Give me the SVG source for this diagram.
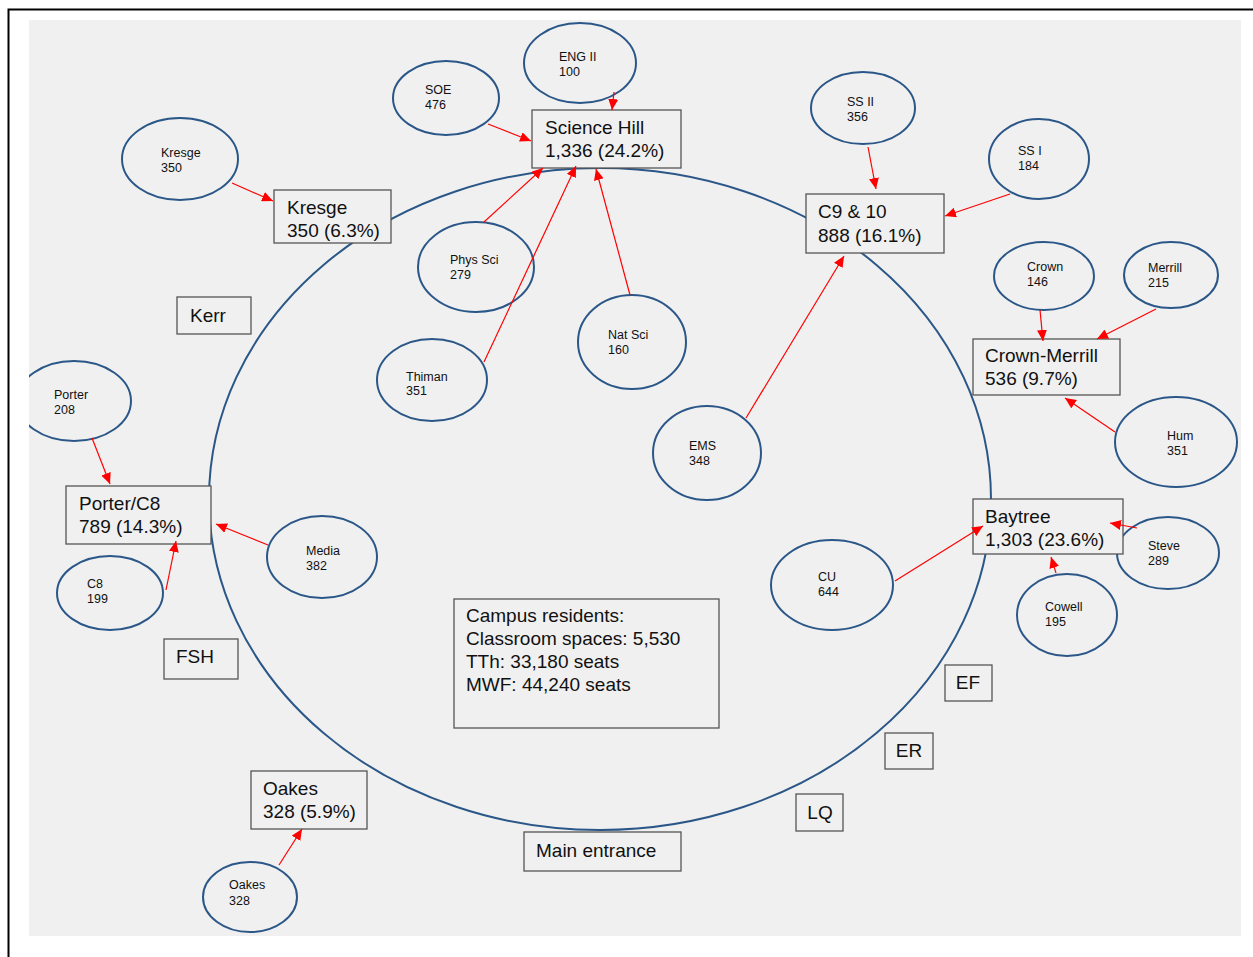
<svg xmlns="http://www.w3.org/2000/svg" width="1253" height="957" viewBox="0 0 1253 957">
<defs>
<style>
.frame{fill:#ffffff;stroke:#000;stroke-width:2}
.bg{fill:#f0f0f0}
.campus{fill:none;stroke:#2b5788;stroke-width:2}
.e{fill:#f0f0f0;stroke:#2b5788;stroke-width:2}
.b{fill:#f0f0f0;stroke:#555;stroke-width:1.3}
.s{font-family:"Liberation Sans",Arial,sans-serif;font-size:12.5px;fill:#111}
.t{font-family:"Liberation Sans",Arial,sans-serif;font-size:19px;fill:#111}
.a{stroke:#f00;stroke-width:1.2;fill:none;marker-end:url(#ah)}
</style>
<marker id="ah" markerUnits="userSpaceOnUse" markerWidth="12" markerHeight="10" refX="11" refY="5" orient="auto">
<path d="M0,0 L11,5 L0,10 Z" fill="#f00"/>
</marker>
<clipPath id="bgclip"><rect x="29" y="20" width="1212" height="916"/></clipPath>
</defs>
<rect class="frame" x="8.5" y="9.5" width="1260" height="960"/>
<rect class="bg" x="29" y="20" width="1212" height="916"/>
<ellipse class="campus" cx="600" cy="499" rx="391" ry="331"/>

<g id="n-eng2"><ellipse class="e" cx="580" cy="63" rx="56" ry="40"/><text class="s" x="559" y="61">ENG II</text><text class="s" x="559" y="76">100</text></g>
<g id="n-soe"><ellipse class="e" cx="446" cy="98" rx="53" ry="37"/><text class="s" x="425" y="94">SOE</text><text class="s" x="425" y="109">476</text></g>
<g id="n-kresge-e"><ellipse class="e" cx="180" cy="159" rx="58" ry="41"/><text class="s" x="161" y="157">Kresge</text><text class="s" x="161" y="172">350</text></g>
<g id="n-ss2"><ellipse class="e" cx="863" cy="108" rx="52" ry="36"/><text class="s" x="847" y="106">SS II</text><text class="s" x="847" y="121">356</text></g>
<g id="n-ss1"><ellipse class="e" cx="1039" cy="159" rx="50" ry="40"/><text class="s" x="1018" y="155">SS I</text><text class="s" x="1018" y="170">184</text></g>
<g id="n-crown"><ellipse class="e" cx="1044" cy="276" rx="50" ry="34"/><text class="s" x="1027" y="271">Crown</text><text class="s" x="1027" y="286">146</text></g>
<g id="n-merrill"><ellipse class="e" cx="1171" cy="275" rx="47" ry="33"/><text class="s" x="1148" y="272">Merrill</text><text class="s" x="1148" y="287">215</text></g>
<g id="n-hum"><ellipse class="e" cx="1176" cy="442" rx="61" ry="45"/><text class="s" x="1167" y="440">Hum</text><text class="s" x="1167" y="455">351</text></g>
<g id="n-physsci"><ellipse class="e" cx="476" cy="267" rx="58" ry="45"/><text class="s" x="450" y="264">Phys Sci</text><text class="s" x="450" y="279">279</text></g>
<g id="n-natsci"><ellipse class="e" cx="632" cy="342" rx="54" ry="47"/><text class="s" x="608" y="339">Nat Sci</text><text class="s" x="608" y="354">160</text></g>
<g id="n-thiman"><ellipse class="e" cx="432" cy="380" rx="55" ry="41"/><text class="s" x="406" y="381">Thiman</text><text class="s" x="406" y="395">351</text></g>
<g id="n-ems"><ellipse class="e" cx="707" cy="453" rx="54" ry="47"/><text class="s" x="689" y="450">EMS</text><text class="s" x="689" y="465">348</text></g>
<g id="n-porter-e" clip-path="url(#bgclip)"><ellipse class="e" cx="74" cy="401" rx="57" ry="40"/><text class="s" x="54" y="399">Porter</text><text class="s" x="54" y="414">208</text></g>
<g id="n-c8"><ellipse class="e" cx="110" cy="593" rx="53" ry="37"/><text class="s" x="87" y="588">C8</text><text class="s" x="87" y="603">199</text></g>
<g id="n-media"><ellipse class="e" cx="322" cy="557" rx="55" ry="41"/><text class="s" x="306" y="555">Media</text><text class="s" x="306" y="570">382</text></g>
<g id="n-cu"><ellipse class="e" cx="832" cy="585" rx="61" ry="45"/><text class="s" x="818" y="581">CU</text><text class="s" x="818" y="596">644</text></g>
<g id="n-steve"><ellipse class="e" cx="1168" cy="553" rx="51" ry="36"/><text class="s" x="1148" y="550">Steve</text><text class="s" x="1148" y="565">289</text></g>
<g id="n-cowell"><ellipse class="e" cx="1067" cy="615" rx="50" ry="41"/><text class="s" x="1045" y="611">Cowell</text><text class="s" x="1045" y="626">195</text></g>
<g id="n-oakes-e"><ellipse class="e" cx="250" cy="897" rx="47" ry="35"/><text class="s" x="229" y="889">Oakes</text><text class="s" x="229" y="905">328</text></g>

<g id="n-sciencehill"><rect class="b" x="532" y="110" width="149" height="58"/><text class="t" x="545" y="134">Science Hill</text><text class="t" x="545" y="157">1,336 (24.2%)</text></g>
<g id="n-kresge"><rect class="b" x="274" y="190" width="117" height="53"/><text class="t" x="287" y="214">Kresge</text><text class="t" x="287" y="237">350 (6.3%)</text></g>
<g id="n-c910"><rect class="b" x="806" y="194" width="138" height="59"/><text class="t" x="818" y="218">C9 &amp; 10</text><text class="t" x="818" y="242">888 (16.1%)</text></g>
<g id="n-crownmerrill"><rect class="b" x="973" y="339" width="147" height="56"/><text class="t" x="985" y="362">Crown-Merrill</text><text class="t" x="985" y="385">536 (9.7%)</text></g>
<g id="n-baytree"><rect class="b" x="973" y="499" width="150" height="55"/><text class="t" x="985" y="523">Baytree</text><text class="t" x="985" y="546">1,303 (23.6%)</text></g>
<g id="n-porterc8"><rect class="b" x="66" y="486" width="145" height="58"/><text class="t" x="79" y="510">Porter/C8</text><text class="t" x="79" y="533">789 (14.3%)</text></g>
<g id="n-kerr"><rect class="b" x="177" y="297" width="74" height="37"/><text class="t" x="190" y="322">Kerr</text></g>
<g id="n-fsh"><rect class="b" x="164" y="639" width="74" height="40"/><text class="t" x="176" y="663">FSH</text></g>
<g id="n-oakes"><rect class="b" x="251" y="771" width="116" height="58"/><text class="t" x="263" y="795">Oakes</text><text class="t" x="263" y="818">328 (5.9%)</text></g>
<g id="n-main"><rect class="b" x="524" y="832" width="157" height="39"/><text class="t" x="536" y="857">Main entrance</text></g>
<g id="n-ef"><rect class="b" x="945" y="665" width="47" height="36"/><text class="t" x="968" y="689" text-anchor="middle">EF</text></g>
<g id="n-er"><rect class="b" x="885" y="733" width="48" height="36"/><text class="t" x="909" y="757" text-anchor="middle">ER</text></g>
<g id="n-lq"><rect class="b" x="796" y="794" width="47" height="37"/><text class="t" x="820" y="819" text-anchor="middle">LQ</text></g>
<g id="n-summary"><rect class="b" x="454" y="599" width="265" height="129"/><text class="t" x="466" y="622">Campus residents:</text><text class="t" x="466" y="645">Classroom spaces: 5,530</text><text class="t" x="466" y="668">TTh: 33,180 seats</text><text class="t" x="466" y="691">MWF: 44,240 seats</text></g>

<g id="connectors">
<line class="a" x1="614" y1="92" x2="612" y2="110"/>
<line class="a" x1="488" y1="124" x2="531" y2="141"/>
<line class="a" x1="484" y1="222" x2="543" y2="168"/>
<line class="a" x1="484" y1="362" x2="576" y2="166"/>
<line class="a" x1="630" y1="295" x2="596" y2="169"/>
<line class="a" x1="232" y1="183" x2="273" y2="201"/>
<line class="a" x1="868" y1="147" x2="876" y2="189"/>
<line class="a" x1="1010" y1="194" x2="945" y2="216"/>
<line class="a" x1="746" y1="418" x2="844" y2="256"/>
<line class="a" x1="1040" y1="310" x2="1043" y2="341"/>
<line class="a" x1="1156" y1="309" x2="1097" y2="339"/>
<line class="a" x1="1115" y1="432" x2="1065" y2="398"/>
<line class="a" x1="895" y1="581" x2="983" y2="526"/>
<line class="a" x1="1137" y1="528" x2="1110" y2="523"/>
<line class="a" x1="1056" y1="573" x2="1051" y2="557"/>
<line class="a" x1="92" y1="438" x2="110" y2="484"/>
<line class="a" x1="166" y1="590" x2="176" y2="541"/>
<line class="a" x1="268" y1="545" x2="216" y2="524"/>
<line class="a" x1="279" y1="865" x2="302" y2="829"/>
</g>
</svg>
